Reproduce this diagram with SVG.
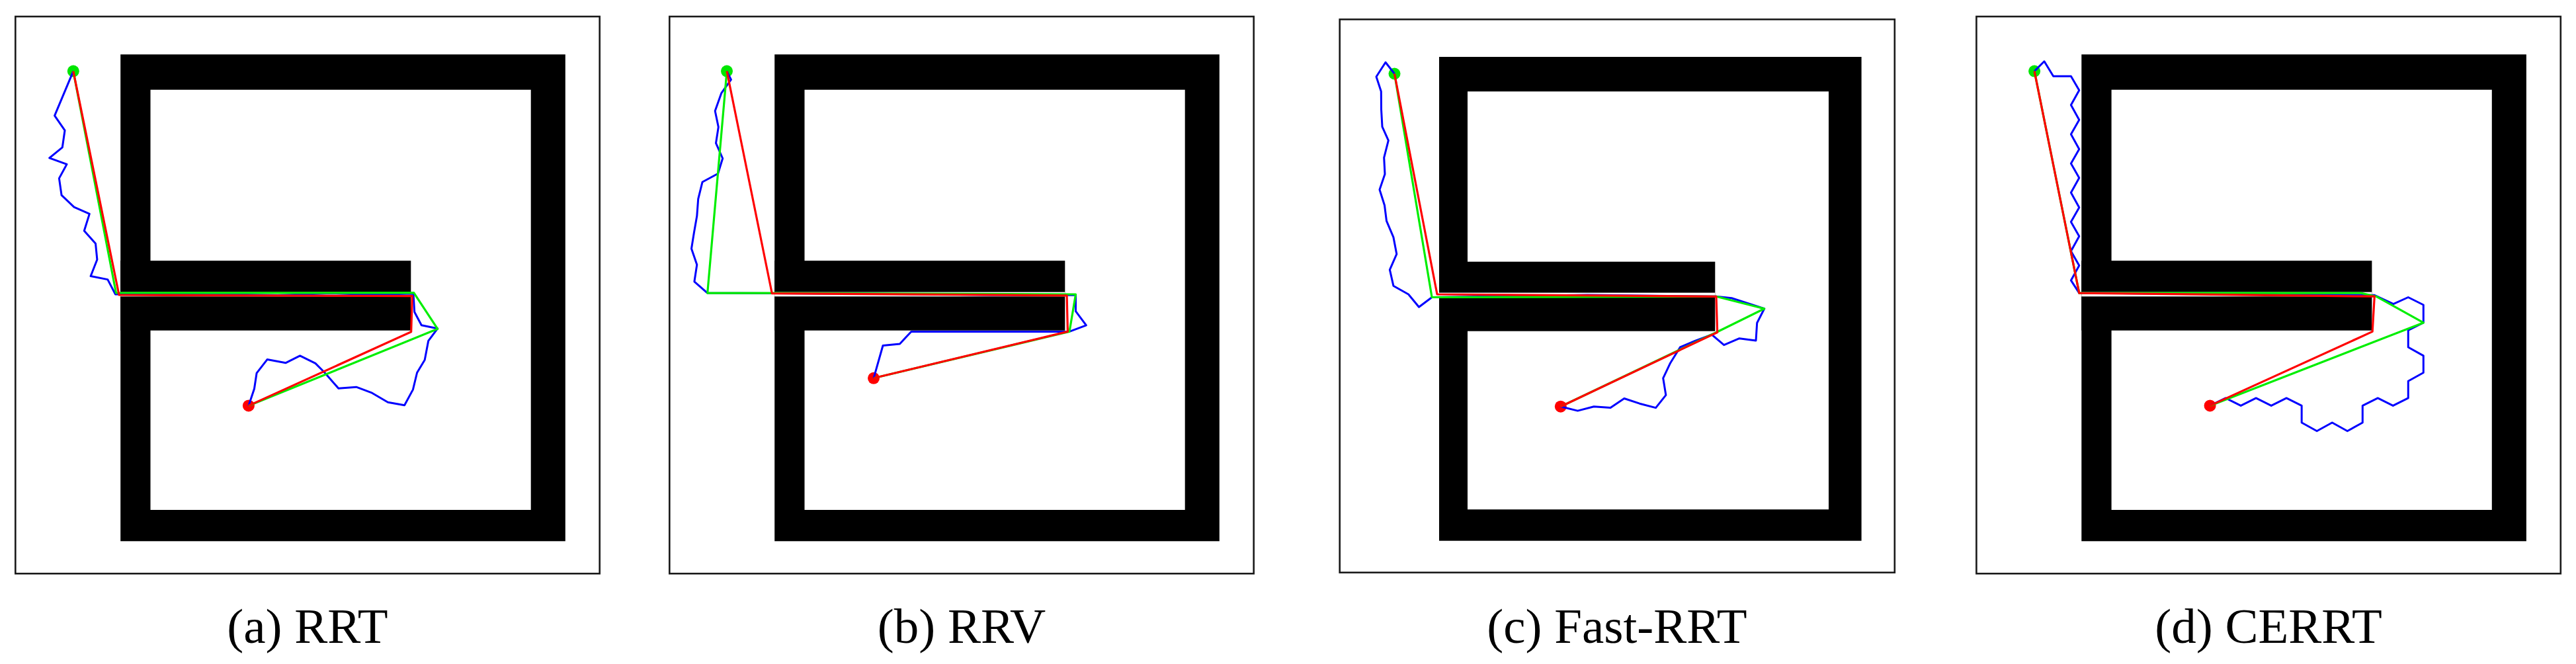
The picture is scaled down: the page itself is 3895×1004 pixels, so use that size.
<svg xmlns="http://www.w3.org/2000/svg" xmlns:xlink="http://www.w3.org/1999/xlink" width="3895" height="1004" viewBox="0 0 3895 1004">
<style>
.frame{fill:#fff;stroke:#1a1a1a;stroke-width:2.6}
.wall{fill:#000}
.hole{fill:#fff}
.blue{fill:none;stroke:#0000ff;stroke-width:3;stroke-linejoin:round}
.green{fill:none;stroke:#00ee00;stroke-width:3.2;stroke-linejoin:round}
.red{fill:none;stroke:#ff0000;stroke-width:3.2;stroke-linejoin:round}
.gdot{fill:#00e600}
.rdot{fill:#ff0000}
.lbl{font-family:"Liberation Serif","Times New Roman",serif;font-size:75px;fill:#000;text-anchor:middle}
</style>
<defs>
<g id="maze">
<rect class="wall" x="182.2" y="82.3" width="672.6" height="736"/>
<rect class="hole" x="227.5" y="135.7" width="575.2" height="635.3"/>
<rect class="wall" x="182.2" y="394.2" width="439.1" height="105.5"/>
<rect class="hole" x="182.2" y="441.6" width="439.1" height="6.7"/>
</g>
</defs>
<rect width="3895" height="1004" fill="#fff"/>

<g id="panel-a">
<rect class="frame" x="23.3" y="25" width="883.4" height="842.3"/>
<use xlink:href="#maze" href="#maze"/>
<circle class="gdot" cx="110.8" cy="107.6" r="9"/>
<circle class="rdot" cx="375.9" cy="613.4" r="9"/>
<g id="paths-a">
<polyline class="blue" points="110.8,107.6 82.6,174.8 98,197.2 94.3,222.8 74.7,238.8 101,248.4 89.4,269.6 93.1,295.2 112,313.1 135.3,323.4 127.3,349 144.5,368.2 146.9,392.5 137.1,417.5 162.8,422.6 174.5,445 300,444 420,446.5 500,443.5 560,445.5 625,444 626.7,471.7 637.3,491.7 661.7,496.7 647.7,515.4 642.2,544.3 630.6,563.5 624.4,589.1 611.6,612.8 586.5,608.3 562.6,594.2 538.7,585.2 511.8,587.2 491,563.5 476.9,549.4 453.6,537.9 432.2,548.7 404,543.6 388.1,564.1 384.5,587.8 375.9,613.4"/>
<polyline class="green" points="110.8,107.6 175.5,443 625.7,442.7 661.7,497.3 375.9,613.4"/>
<polyline class="red" points="110.8,107.6 180,446 623.3,447.7 621.7,501.7 375.9,613.4"/>
</g>
<text class="lbl" x="465" y="972">(a) RRT</text>
</g>

<g id="panel-b">
<rect class="frame" x="1012.3" y="25" width="883.4" height="842.3"/>
<use xlink:href="#maze" href="#maze" x="989"/>
<circle class="gdot" cx="1099" cy="107.6" r="9"/>
<circle class="rdot" cx="1321" cy="571.8" r="9"/>
<g id="paths-b">
<polyline class="blue" points="1099,107.6 1105.4,120.4 1090.7,140.9 1081.2,167.8 1086.3,192.1 1082.5,216.4 1092.7,239.5 1085.6,262.5 1062,275.3 1055.7,300.9 1053.8,326.6 1049.3,352.2 1045.5,375.9 1053.8,400.2 1049.9,425.8 1069.7,443.1 1300,444 1500,446 1626.5,446.3 1626.5,470.6 1642.4,491.8 1617,501.4 1500,501.4 1377.8,501.4 1360.5,519.9 1335,522.5 1321,571.8"/>
<polyline class="green" points="1099,107.6 1069.7,443.1 1167.3,443.1 1626.5,445 1617,501.4 1321,571.8"/>
<polyline class="red" points="1099,107.6 1167.3,443.7 1613.1,446.8 1614.4,501.4 1321,571.8"/>
</g>
<text class="lbl" x="1454" y="972">(b) RRV</text>
</g>

<g id="panel-c">
<rect class="frame" x="2025.7" y="29.3" width="839.1" height="836.4"/>
<rect class="wall" x="2176" y="86" width="638.6" height="731.7"/>
<rect class="hole" x="2219" y="138.3" width="546" height="632"/>
<rect class="wall" x="2176" y="395.7" width="417.3" height="105"/>
<rect class="hole" x="2176" y="442.6" width="417.3" height="5.9"/>
<circle class="gdot" cx="2108.5" cy="111.5" r="9"/>
<circle class="rdot" cx="2359.8" cy="614.7" r="9"/>
<g id="paths-c">
<polyline class="blue" points="2108.5,111.5 2095,94.3 2081,116 2088.3,138.3 2088.5,165.2 2090,191.7 2099.3,212.3 2092.7,238.3 2094,263.3 2086,286.7 2093.5,310.5 2096.5,334.2 2106.9,358.6 2111.8,384.2 2101.4,407.9 2106.9,432.2 2129.6,445 2145.5,464.2 2165.1,449.5 2400,446 2595,448.3 2618.3,450.7 2667.7,466.7 2656.7,488.3 2655,515 2630,511.7 2606.7,521.7 2588.3,506 2563,515.4 2540.4,525 2525.7,548.7 2514.7,571.8 2518.9,597.4 2503.6,616.6 2479.1,610.2 2455.9,602.5 2435.1,616.6 2410,614.7 2385.5,621.1 2359.8,614.7"/>
<polyline class="green" points="2108.5,111.5 2165.1,449.5 2595,448.3 2667.7,466.7 2596.7,501.7 2359.8,614.7"/>
<polyline class="red" points="2108.5,111.5 2173,445 2595,448.3 2596.7,502.5 2359.8,614.7"/>
</g>
<text class="lbl" x="2445" y="972">(c) Fast-RRT</text>
</g>

<g id="panel-d">
<rect class="frame" x="2988.4" y="25" width="883.4" height="842.3"/>
<use xlink:href="#maze" href="#maze" x="2965.1"/>
<circle class="gdot" cx="3076.1" cy="107.6" r="9"/>
<circle class="rdot" cx="3341.6" cy="613.4" r="9"/>
<g id="paths-d">
<polyline class="blue" points="3076.1,107.6 3091,92.8 3104.7,115.3 3131.4,115.3 3143.8,136.4 3131.4,158.8 3143.8,181.2 3131.4,203 3143.8,225.4 3131.4,247.2 3143.8,268.9 3131.4,291.3 3143.8,313.7 3131.4,335.5 3143.8,357.3 3131.4,379.7 3143.8,401.5 3131.4,423.9 3143.8,443.1 3590.3,446.3 3618.9,459.7 3641.3,449.5 3664.3,461 3664.3,487.9 3641.3,499.4 3641.3,525 3664.3,537.9 3664.3,563.5 3641.3,576.3 3641.3,601.9 3618.3,613.4 3595.3,601.9 3572.3,613.4 3572.3,639 3549.3,651.8 3526.3,639 3503.2,651.8 3480.2,639 3480.2,613.4 3457.2,601.9 3434.2,613.4 3411.2,601.9 3388.2,613.4 3365.2,601.9 3341.6,613.4"/>
<polyline class="green" points="3076.1,107.6 3143.8,443.1 3569.8,443.1 3592.8,448.2 3664.3,487.9 3341.6,613.4"/>
<polyline class="red" points="3076.1,107.6 3143.8,443.1 3590.3,448.2 3587.2,501.4 3341.6,613.4"/>
</g>
<text class="lbl" x="3430" y="972">(d) CERRT</text>
</g>
</svg>
